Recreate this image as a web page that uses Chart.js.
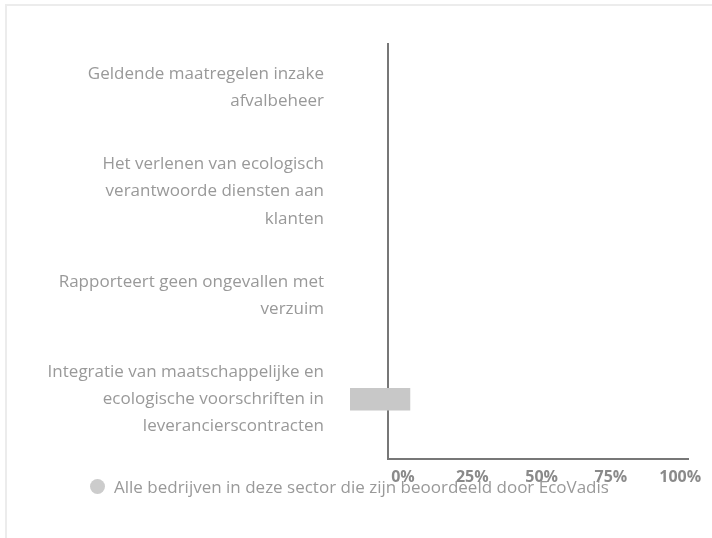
<!DOCTYPE html>
<html>
<head>
<meta charset="utf-8">
<script src="https://cdn.jsdelivr.net/npm/chart.js@4/dist/chart.umd.min.js"></script>
<style>
  body { margin: 0; background: #fff; font-family: "Open Sans", sans-serif; }
  .frame { position: absolute; left: 5px; top: 4px; width: 800px; height: 600px; border: 2px solid #ececec; }
  canvas { position: absolute; left: 0; top: 0; }
  .legend { position: absolute; left: 90px; top: 475px; display: flex; align-items: center; font-size: 17px; color: #999; white-space: nowrap; }
  .legend .dot { width: 15px; height: 15px; border-radius: 50%; background: #cccccc; margin-right: 9px; }
</style>
</head>
<body>
<div class="frame"></div>
<canvas id="chart" width="712" height="538"></canvas>
<div class="legend"><span class="dot"></span><span>Alle bedrijven in deze sector die zijn beoordeeld door EcoVadis</span></div>
<script>
const categories = [
    ["Geldende maatregelen inzake", "afvalbeheer"],
    ["Het verlenen van ecologisch", "verantwoorde diensten aan", "klanten"],
    ["Rapporteert geen ongevallen met", "verzuim"],
    ["Integratie van maatschappelijke en", "ecologische voorschriften in", "leverancierscontracten"]
];
const seriesName = "Alle bedrijven in deze sector die zijn beoordeeld door EcoVadis";
const allCompanies = [null, null, null, [-19, 2.5]];
const xTicks = [0, 25, 50, 75, 100];
const yTicks = [0, 1, 2, 3];

const ctx = document.getElementById("chart").getContext("2d");

// keep the label overflow from pushing the chart area in
const noOverflow = s => {
    s.paddingTop = 0;
    s.paddingBottom = 0;
    s.paddingLeft = 0;
    s.paddingRight = 0;
};

const chart = new Chart(ctx, {
    type: "bar",
    data: {
        datasets: [{
            label: seriesName,
            data: categories.map((c, i) => ({ y: i, x: allCompanies[i] })),
            backgroundColor: "#c8c8c8",
            barThickness: 22,
            clip: false
        }]
    },
    options: {
        indexAxis: "y",
        responsive: false,
        animation: false,
        layout: { padding: { top: 44, right: 24, left: 0, bottom: 0 } },
        plugins: { legend: { display: false }, tooltip: { enabled: false } },
        scales: {
            x: {
                type: "linear",
                min: -5.41,
                max: 102.8,
                afterBuildTicks: s => { s.ticks = xTicks.map(v => ({ value: v })); },
                afterFit: s => { s.height = 79; noOverflow(s); },
                grid: { display: false, drawTicks: false },
                border: { color: "#777", width: 2 },
                ticks: {
                    padding: 9,
                    color: "#8a8a8a",
                    font: { family: "Open Sans", size: 16, weight: "bold" },
                    callback: v => v + "%"
                }
            },
            y: {
                type: "linear",
                reverse: true,
                offset: false,
                min: -0.42,
                max: 3.575,
                afterBuildTicks: s => { s.ticks = yTicks.map(v => ({ value: v })); },
                afterFit: s => { s.width = 388; noOverflow(s); },
                grid: { display: false, drawTicks: false, offset: false },
                border: { color: "#777", width: 2 },
                ticks: {
                    padding: 64,
                    color: "#999",
                    font: { family: "Open Sans", size: 17, lineHeight: 1.6 },
                    callback: v => categories[v]
                }
            }
        }
    }
});
</script>
</body>
</html>
